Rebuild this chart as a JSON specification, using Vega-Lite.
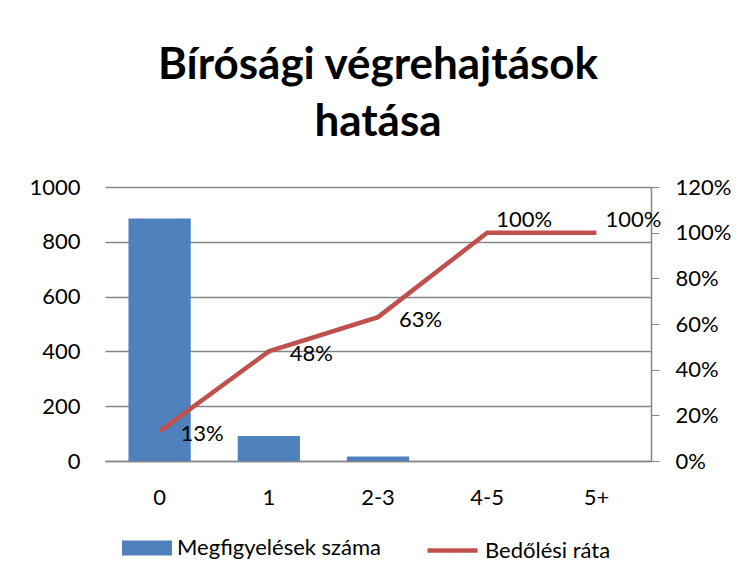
{
  "$schema": "https://vega.github.io/schema/vega-lite/v6.json",
  "autosize": "none",
  "width": 546,
  "height": 274,
  "padding": {"left": 105, "top": 187, "right": 91, "bottom": 124},
  "background": "white",
  "title": {
    "text": ["Bírósági végrehajtások", "hatása"],
    "font": "Lato",
    "fontSize": 44,
    "fontWeight": "bold",
    "lineHeight": 57,
    "color": "black",
    "anchor": "middle",
    "offset": 31
  },
  "config": {
    "font": "Lato",
    "view": {"stroke": null},
    "axis": {"labelFont": "Lato", "labelFontSize": 22, "labelColor": "black", "domainColor": "#868686", "tickColor": "#868686", "gridColor": "#868686", "title": null},
    "legend": {"labelFont": "Lato", "labelFontSize": 22, "labelColor": "black", "padding": 0, "labelLimit": 400}
  },
  "data": {
    "values": [
      {"cat": "0", "count": 885, "rate": 0.13},
      {"cat": "1", "count": 91, "rate": 0.48},
      {"cat": "2-3", "count": 16, "rate": 0.63},
      {"cat": "4-5", "count": 0, "rate": 1.0},
      {"cat": "5+", "count": 0, "rate": 1.0}
    ]
  },
  "encoding": {
    "x": {
      "field": "cat",
      "type": "ordinal",
      "sort": null,
      "scale": {"paddingInner": 0.43, "paddingOuter": 0.215},
      "axis": {"labelAngle": 0, "ticks": false, "labelPadding": 26, "domainColor": "#868686", "domainWidth": 1.5}
    }
  },
  "layer": [
    {
      "mark": {"type": "bar"},
      "encoding": {
        "y": {
          "field": "count",
          "type": "quantitative",
          "scale": {"domain": [0, 1000]},
          "axis": {"values": [0, 200, 400, 600, 800, 1000], "format": "d", "domain": false, "ticks": false, "labelPadding": 25, "grid": true, "gridWidth": 1.5}
        },
        "fill": {
          "datum": "Megfigyelések száma",
          "scale": {"range": ["#4F81BD"]},
          "legend": {
            "title": null,
            "orient": "none",
            "legendX": 17,
            "legendY": 336,
            "symbolType": "M-1,-0.3H1V0.3H-1Z",
            "symbolSize": 2500,
            "symbolStrokeWidth": 0,
            "labelOffset": 5
          }
        }
      }
    },
    {
      "mark": {"type": "line", "strokeWidth": 4.5},
      "encoding": {
        "y": {
          "field": "rate",
          "type": "quantitative",
          "scale": {"domain": [0, 1.2]},
          "axis": {"orient": "right", "format": "0%", "values": [0, 0.2, 0.4, 0.6, 0.8, 1.0, 1.2], "grid": false, "domainWidth": 1.5, "tickSize": 8, "labelPadding": 16}
        },
        "stroke": {
          "datum": "Bedőlési ráta",
          "scale": {"range": ["#C0504D"]},
          "legend": {
            "title": null,
            "orient": "none",
            "legendX": 320,
            "legendY": 336,
            "symbolType": "stroke",
            "symbolSize": 2500,
            "symbolStrokeWidth": 4.5,
            "labelOffset": 5
          }
        }
      }
    },
    {
      "transform": [{"filter": "datum.rate < 1"}],
      "mark": {"type": "text", "align": "left", "baseline": "middle", "dx": 21, "dy": 3, "font": "Lato", "fontSize": 22, "color": "black"},
      "encoding": {
        "y": {"field": "rate", "type": "quantitative", "scale": {"domain": [0, 1.2]}, "axis": null},
        "text": {"field": "rate", "type": "quantitative", "format": ".0%"}
      }
    },
    {
      "transform": [{"filter": "datum.rate >= 1"}],
      "mark": {"type": "text", "align": "left", "baseline": "middle", "dx": 9, "dy": -13, "font": "Lato", "fontSize": 22, "color": "black"},
      "encoding": {
        "y": {"field": "rate", "type": "quantitative", "scale": {"domain": [0, 1.2]}, "axis": null},
        "text": {"field": "rate", "type": "quantitative", "format": ".0%"}
      }
    }
  ],
  "resolve": {"scale": {"y": "independent"}}
}
